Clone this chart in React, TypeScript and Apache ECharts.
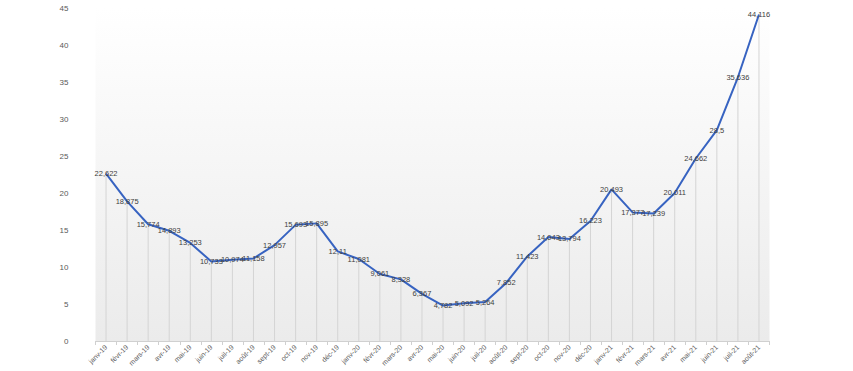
import React, { useEffect, useRef } from "react";
import * as echarts from "echarts";

const categories = [
  "janv-19", "févr-19", "mars-19", "avr-19", "mai-19", "juin-19", "juil-19", "août-19",
  "sept-19", "oct-19", "nov-19", "déc-19", "janv-20", "févr-20", "mars-20", "avr-20",
  "mai-20", "juin-20", "juil-20", "août-20", "sept-20", "oct-20", "nov-20", "déc-20",
  "janv-21", "févr-21", "mars-21", "avr-21", "mai-21", "juin-21", "juil-21", "août-21",
];

const values = [
  22.622, 18.875, 15.774, 14.893, 13.253, 10.733, 10.974, 11.158,
  12.957, 15.693, 15.895, 12.11, 11.081, 9.061, 8.328, 6.367,
  4.782, 5.092, 5.264, 7.852, 11.423, 14.043, 13.794, 16.223,
  20.493, 17.377, 17.239, 20.011, 24.662, 28.5, 35.636, 44.116,
];

const yTicks = { min: 0, max: 45, interval: 5 };

const fmt = (v: number) => String(v).replace(".", ",");

export default function App() {
  const ref = useRef<HTMLDivElement>(null);
  useEffect(() => {
    if (!ref.current) return;
    const chart = echarts.init(ref.current, undefined, { renderer: "svg" });
    chart.setOption({
      animation: false,
      backgroundColor: "#ffffff",
      textStyle: { fontFamily: "Liberation Sans" },
      grid: {
        left: 95.5,
        right: 83.5,
        top: 8,
        bottom: 30,
        show: true,
        borderWidth: 0,
        backgroundColor: new echarts.graphic.LinearGradient(0, 0, 0, 1, [
          { offset: 0, color: "#ffffff" },
          { offset: 1, color: "#ebebeb" },
        ]),
      },
      xAxis: {
        type: "category",
        data: categories,
        boundaryGap: true,
        axisLine: { lineStyle: { color: "#d0d0d0" } },
        axisTick: { show: true, length: 4, lineStyle: { color: "#d0d0d0" } },
        axisLabel: {
          rotate: 45,
          fontSize: 7,
          color: "#595959",
          margin: 5,
          interval: 0,
        },
      },
      yAxis: {
        type: "value",
        min: yTicks.min,
        max: yTicks.max,
        interval: yTicks.interval,
        splitLine: { show: false },
        axisLine: { show: false },
        axisTick: { show: false },
        axisLabel: { fontSize: 8, color: "#595959", margin: 27 },
      },
      series: [
        {
          type: "bar",
          data: values,
          barWidth: 1,
          itemStyle: { color: "#d4d4d4" },
          silent: true,
          z: 1,
        },
        {
          type: "line",
          data: values,
          symbol: "circle",
          symbolSize: 1,
          showSymbol: true,
          showAllSymbol: true,
          itemStyle: { color: "rgba(55,99,193,0)" },
          lineStyle: { color: "#3763c1", width: 2 },
          z: 3,
          label: {
            show: true,
            position: "inside",
            formatter: (p: any) => fmt(p.value),
            fontSize: 7.5,
            color: "#404040",
          },
          labelLayout: { hideOverlap: false },
        },
      ],
    });
    return () => chart.dispose();
  }, []);
  return (
    <div
      ref={ref}
      style={{ position: "fixed", left: 0, top: 0, width: 853, height: 371 }}
    />
  );
}
